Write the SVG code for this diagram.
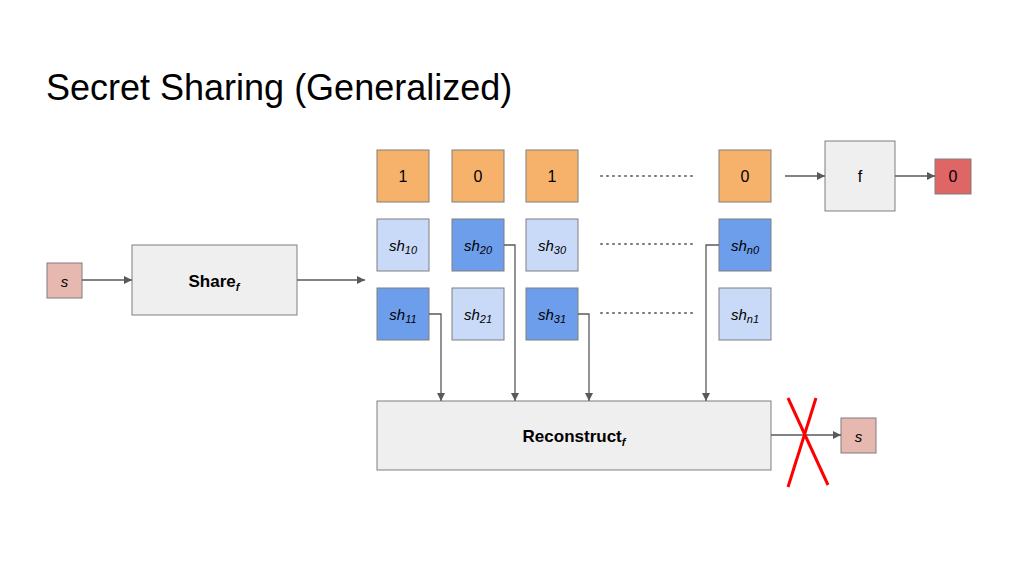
<svg xmlns="http://www.w3.org/2000/svg" width="1024" height="576" viewBox="0 0 1024 576">
<defs>
<marker id="ar" viewBox="0 0 10 10" refX="10" refY="5" markerWidth="8" markerHeight="8" orient="auto" markerUnits="userSpaceOnUse"><path d="M0,0L10,5L0,10z" fill="#595959"/></marker>
<style>
text{font-family:"Liberation Sans",Arial,sans-serif;fill:#000}
.b{stroke:#7f7f7f;stroke-width:1}
.o{fill:#f6b26b}.l{fill:#c9daf8}.d{fill:#6d9eeb}.g{fill:#efefef}.p{fill:#e6b8af}
.t{font-size:16px;text-anchor:middle}
.i{font-size:15px;font-style:italic;text-anchor:middle}
.c{stroke:#595959;stroke-width:1.3;fill:none}
.dot{stroke:#777;stroke-width:2;stroke-dasharray:1 5;stroke-linecap:round}
</style>
</defs>
<rect width="1024" height="576" fill="#fff"/>
<text x="46" y="100" font-size="36">Secret Sharing (Generalized)</text>
<g id="bits">
<rect class="b o" x="377" y="150" width="52" height="52"/><text class="t" x="403" y="182">1</text>
<rect class="b o" x="452" y="150" width="52" height="52"/><text class="t" x="478" y="182">0</text>
<rect class="b o" x="526" y="150" width="52" height="52"/><text class="t" x="552" y="182">1</text>
<rect class="b o" x="719" y="150" width="52" height="52"/><text class="t" x="745" y="182">0</text>
</g>
<g id="shares">
<rect class="b l" x="377" y="219" width="52" height="52"/><text class="i" x="403" y="251">sh<tspan font-size="11" dy="3">10</tspan></text>
<rect class="b d" x="452" y="219" width="52" height="52"/><text class="i" x="478" y="251">sh<tspan font-size="11" dy="3">20</tspan></text>
<rect class="b l" x="526" y="219" width="52" height="52"/><text class="i" x="552" y="251">sh<tspan font-size="11" dy="3">30</tspan></text>
<rect class="b d" x="719" y="219" width="52" height="52"/><text class="i" x="745" y="251">sh<tspan font-size="11" dy="3">n0</tspan></text>
<rect class="b d" x="377" y="288" width="52" height="52"/><text class="i" x="403" y="320">sh<tspan font-size="11" dy="3">11</tspan></text>
<rect class="b l" x="452" y="288" width="52" height="52"/><text class="i" x="478" y="320">sh<tspan font-size="11" dy="3">21</tspan></text>
<rect class="b d" x="526" y="288" width="52" height="52"/><text class="i" x="552" y="320">sh<tspan font-size="11" dy="3">31</tspan></text>
<rect class="b l" x="719" y="288" width="52" height="52"/><text class="i" x="745" y="320">sh<tspan font-size="11" dy="3">n1</tspan></text>
</g>
<g id="dots">
<line class="dot" x1="601" y1="176" x2="697" y2="176"/>
<line class="dot" x1="601" y1="244" x2="697" y2="244"/>
<line class="dot" x1="601" y1="313" x2="697" y2="313"/>
</g>
<g id="s-in"><rect class="b p" x="47" y="263" width="35" height="35"/><text class="i" x="64.5" y="287" font-size="17">s</text></g>
<g id="share"><rect class="b g" x="132" y="245" width="165" height="70"/><text x="214" y="287" font-size="17" font-weight="bold" text-anchor="middle">Share<tspan font-size="11" font-style="italic" dy="4">f</tspan></text></g>
<g id="f"><rect class="b g" x="825" y="141" width="70" height="70"/><text class="t" x="860" y="182">f</text></g>
<g id="out0"><rect class="b" x="935" y="159" width="36" height="35" fill="#e06666"/><text class="t" x="953" y="182">0</text></g>
<g id="reconstruct"><rect class="b g" x="377" y="401" width="394" height="69"/><text x="574" y="442" font-size="17" font-weight="bold" text-anchor="middle">Reconstruct<tspan font-size="11" font-style="italic" dy="4">f</tspan></text></g>
<g id="s-out"><rect class="b p" x="841" y="418" width="35" height="35"/><text class="i" x="858.5" y="442" font-size="17">s</text></g>
<g id="connectors">
<line class="c" x1="82" y1="280" x2="132" y2="280" marker-end="url(#ar)"/>
<line class="c" x1="297" y1="280" x2="365" y2="280" marker-end="url(#ar)"/>
<line class="c" x1="785" y1="176" x2="825" y2="176" marker-end="url(#ar)"/>
<line class="c" x1="895" y1="176" x2="935" y2="176" marker-end="url(#ar)"/>
<polyline class="c" points="429,314 441,314 441,401" marker-end="url(#ar)"/>
<polyline class="c" points="504,245 515,245 515,401" marker-end="url(#ar)"/>
<polyline class="c" points="578,314 589,314 589,401" marker-end="url(#ar)"/>
<polyline class="c" points="719,245 706,245 706,401" marker-end="url(#ar)"/>
<line class="c" x1="771" y1="435" x2="841" y2="435" marker-end="url(#ar)"/>
</g>
<g id="cross" stroke="#ff0000" stroke-width="3">
<line x1="788" y1="398" x2="828" y2="485"/>
<line x1="816" y1="398" x2="788" y2="487"/>
</g>
</svg>
